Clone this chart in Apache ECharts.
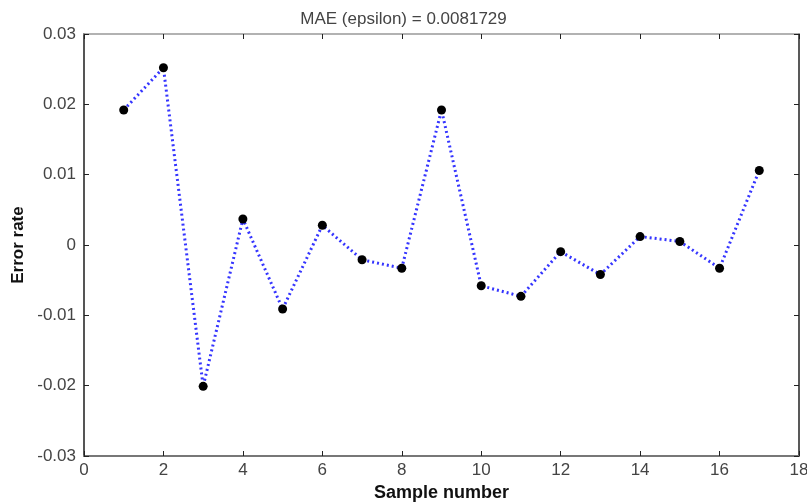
<!DOCTYPE html>
<html>
<head>
<meta charset="utf-8">
<script src="https://cdn.jsdelivr.net/npm/echarts@6/dist/echarts.min.js"></script>
<style>
  html, body { margin: 0; padding: 0; background: #fff; }
  #chart { width: 807px; height: 503px; }
</style>
</head>
<body>
<div id="chart"></div>
<script>
// MATLAB 风格误差图：样本编号 vs 误差率
const TITLE = 'MAE (epsilon) = 0.0081729';
const SAMPLES = [1, 2, 3, 4, 5, 6, 7, 8, 9, 10, 11, 12, 13, 14, 15, 16, 17];
const ERRORS = [
  0.0192, 0.0252, -0.0201, 0.0037, -0.0091, 0.0028, -0.0021, -0.0033, 0.0192,
  -0.0058, -0.0073, -0.00095, -0.0042, 0.0012, 0.0005, -0.0033, 0.0106,
];
const X_TICKS = [0, 18, 2];          // min, max, interval
const Y_TICKS = [-0.03, 0.03, 0.01];

const FONT = '"Liberation Sans", Arial, sans-serif';
const LABEL = { color: '#444', fontSize: 17, fontFamily: FONT };

function mirrorAxis(pos, range, color) {
  return {
    type: 'value', position: pos, min: range[0], max: range[1], interval: range[2],
    axisLine: { show: true, onZero: false, lineStyle: { color, width: 1.5 } },
    axisTick: { show: true, inside: true, length: 5, lineStyle: { color: '#222' } },
    axisLabel: { show: false },
    splitLine: { show: false },
  };
}

const chart = echarts.init(document.getElementById('chart'), null, { renderer: 'canvas' });
chart.setOption({
  animation: false,
  title: {
    text: TITLE, left: 'center', top: 6,
    textStyle: { color: '#444', fontSize: 17, fontWeight: 'normal', fontFamily: FONT },
  },
  grid: { left: 84, right: 8, top: 34, bottom: 47, containLabel: false, outerBoundsMode: 'none' },
  xAxis: [{
    type: 'value', position: 'bottom', min: X_TICKS[0], max: X_TICKS[1], interval: X_TICKS[2],
    name: 'Sample number', nameLocation: 'middle', nameGap: 26,
    nameTextStyle: { color: '#111', fontSize: 18, fontWeight: 'bold', fontFamily: FONT },
    axisLine: { show: true, onZero: false, lineStyle: { color: '#777', width: 2 } },
    axisTick: { show: true, inside: true, length: 5, lineStyle: { color: '#222' } },
    axisLabel: Object.assign({ margin: 6 }, LABEL),
    splitLine: { show: false },
  }, mirrorAxis('top', X_TICKS, '#999')],
  yAxis: [{
    type: 'value', position: 'left', min: Y_TICKS[0], max: Y_TICKS[1], interval: Y_TICKS[2],
    name: 'Error rate', nameLocation: 'middle', nameGap: 57,
    nameTextStyle: { color: '#111', fontSize: 17, fontWeight: 'bold', fontFamily: FONT },
    axisLine: { show: true, onZero: false, lineStyle: { color: '#555', width: 2 } },
    axisTick: { show: true, inside: true, length: 5, lineStyle: { color: '#222' } },
    axisLabel: Object.assign({ margin: 8, formatter: (v) => String(+v.toFixed(2)) }, LABEL),
    splitLine: { show: false },
  }, mirrorAxis('right', Y_TICKS, '#222')],
  series: [{
    type: 'line',
    data: SAMPLES.map((s, i) => [s, ERRORS[i]]),
    symbol: 'circle', symbolSize: 9,
    itemStyle: { color: '#000' },
    lineStyle: { color: '#3535ff', width: 3, type: [2, 3] },
  }],
});
</script>
</body>
</html>
